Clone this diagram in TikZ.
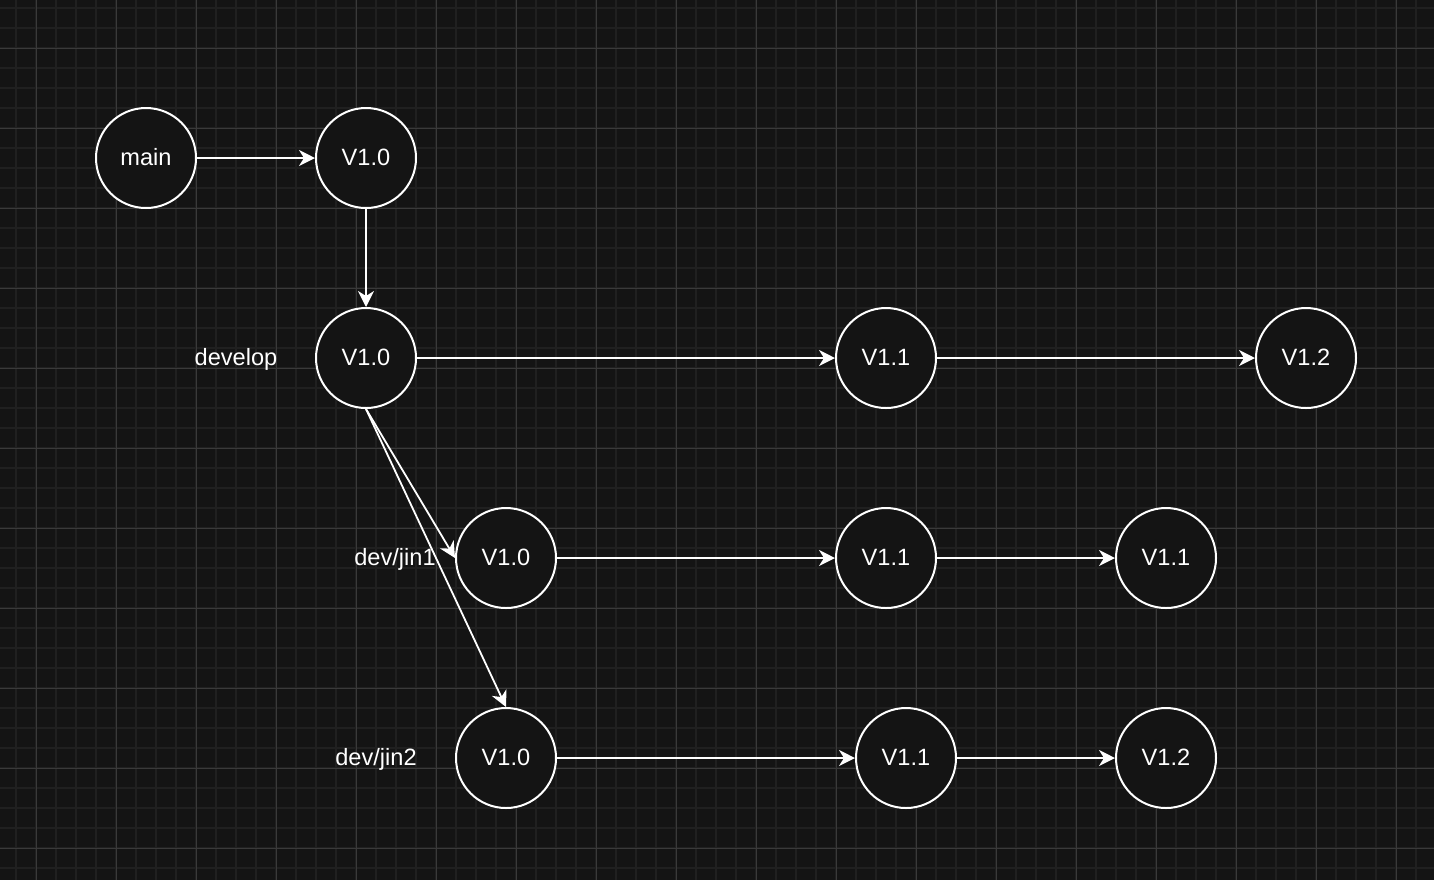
\documentclass[tikz,border=0pt]{standalone}
\usepackage{fontspec}
\setmainfont{Liberation Sans}
\usetikzlibrary{arrows.meta,positioning}

\definecolor{canvas}{HTML}{141414}
\definecolor{gridminor}{HTML}{202020}
\definecolor{gridmajor}{HTML}{3A3A3A}

\begin{document}
\begin{tikzpicture}[
  x=0.5pt, y=-0.5pt,
  font=\fontsize{11.8}{14}\selectfont,
  ver/.style={draw=white, line width=1pt, circle, fill=canvas, text=white, minimum size=50pt, inner sep=0pt, text height=0.72em, text depth=0pt},
  branch/.style={text=white, inner sep=0pt, text height=0.72em, text depth=0pt},
  arrow/.style={-{Stealth[length=8pt,width=8pt,inset=2.5pt]}, white, line width=0.9pt}
]
% canvas and grid
\fill[canvas] (0,0) rectangle (1434,880);
\begin{scope}
\clip (0,0) rectangle (1434,880);
\foreach \gx in {16,36,...,1434} \draw[gridminor, line width=0.6pt] (\gx,0) -- (\gx,880);
\foreach \gy in {8,28,...,880} \draw[gridminor, line width=0.6pt] (0,\gy) -- (1434,\gy);
\foreach \gx in {36,116,...,1434} \draw[gridmajor, line width=0.5pt] (\gx,0) -- (\gx,880);
\foreach \gy in {48,128,...,880} \draw[gridmajor, line width=0.5pt] (0,\gy) -- (1434,\gy);
\end{scope}

% main
\node[ver] (main) at (146,158) {main};
\node[ver] (mainv10) at (366,158) {V1.0};

% develop
\node[ver] (devv10) at (366,358) {V1.0};
\node[ver] (devv11) at (886,358) {V1.1};
\node[ver] (devv12) at (1306,358) {V1.2};
\node[branch] (devlbl) at (236,358) {develop};

% dev/jin1
\node[ver] (jaav10) at (506,558) {V1.0};
\node[ver] (jaav11) at (886,558) {V1.1};
\node[ver] (jaav11b) at (1166,558) {V1.1};
\node[branch] (jaalbl) at (395,558) {dev/jin1};

% dev/jin2
\node[ver] (jbbv10) at (506,758) {V1.0};
\node[ver] (jbbv11) at (906,758) {V1.1};
\node[ver] (jbbv12) at (1166,758) {V1.2};
\node[branch] (jbblbl) at (376,758) {dev/jin2};

\draw[arrow] (main) -- (mainv10);
\draw[arrow] (mainv10) -- (devv10);
\draw[arrow] (devv10) -- (devv11);
\draw[arrow] (devv11) -- (devv12);
\draw[arrow] (devv10.south) -- (jaav10.west);
\draw[arrow] (devv10.south) -- (jbbv10.north);
\draw[arrow] (jaav10) -- (jaav11);
\draw[arrow] (jaav11) -- (jaav11b);
\draw[arrow] (jbbv10) -- (jbbv11);
\draw[arrow] (jbbv11) -- (jbbv12);
\end{tikzpicture}
\end{document}
